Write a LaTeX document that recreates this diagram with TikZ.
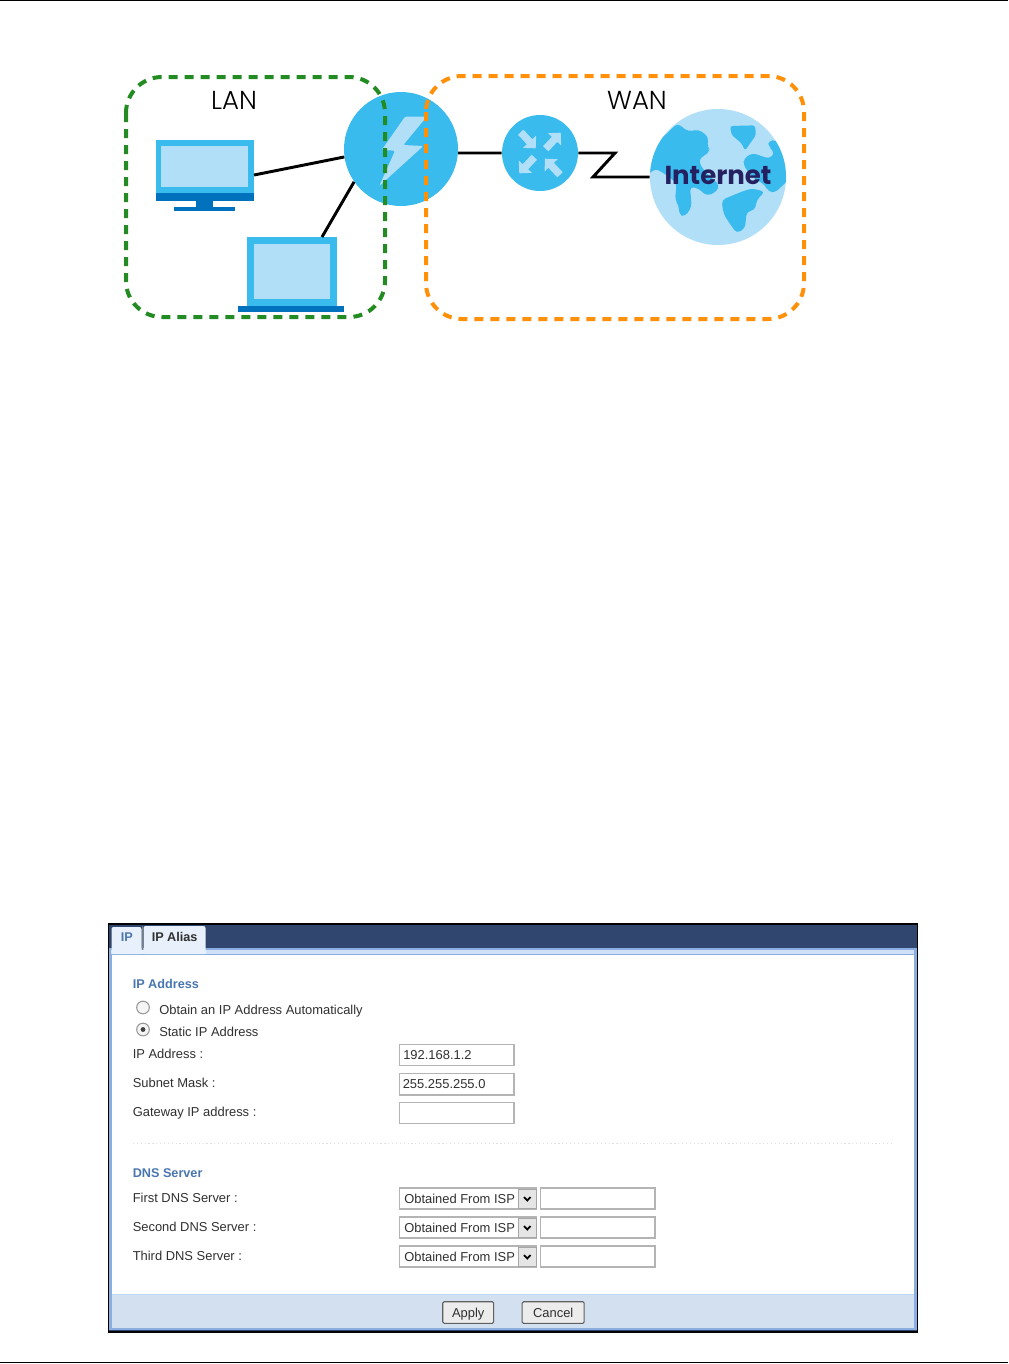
\documentclass[tikz,border=0pt]{standalone}
\usepackage{fontspec}
\setmainfont{Liberation Sans}
\newfontfamily\labelfont{Poppins Light}
\newfontfamily\inetfont{Poppins}
\definecolor{skyb}{HTML}{39BBEE}
\definecolor{paleb}{HTML}{B2DFF8}
\definecolor{deepb}{HTML}{0071BC}
\definecolor{lang}{HTML}{228B22}
\definecolor{wang}{HTML}{FF9008}
\definecolor{navyb}{HTML}{30466E}
\definecolor{inetb}{HTML}{25205F}
\definecolor{footb}{HTML}{D3E0F0}
\definecolor{edgeb}{HTML}{8AAEE0}
\definecolor{bandb}{HTML}{CFE0F8}
\definecolor{tabb}{HTML}{E8F1FB}
\definecolor{headb}{HTML}{4A76B0}
\definecolor{uitext}{HTML}{303030}
\definecolor{fieldb}{HTML}{B4B4B4}
\tikzset{
  x=0.75pt,y=-0.75pt,
  zone/.style={line width=3pt,dash pattern=on 6.75pt off 5.25pt,rounded corners=27pt},
  link/.style={draw=black,line width=2.2pt},
  ball/.style={circle,inner sep=0pt,fill=skyb},
  screenpart/.style={rectangle,inner sep=0pt,fill=skyb},
  netlabel/.style={inner sep=0pt,font=\labelfont\fontsize{19.5}{20}\selectfont,text=black},
  ui/.style={inner sep=0pt,anchor=base west,font=\fontsize{9.7}{11}\selectfont,text=uitext},
  uihead/.style={ui,font=\fontsize{9.5}{11}\selectfont\bfseries,text=headb},
  field/.style={draw=fieldb,line width=0.9pt,fill=white},
  radio/.style={circle,inner sep=0pt,minimum size=9.5pt,draw=gray!80,line width=0.8pt,fill=gray!8},
  uibutton/.style={draw=gray!75!black,line width=0.8pt,fill=gray!15,rounded corners=1pt,inner sep=0pt,anchor=center,text=uitext,text height=9.2pt,text depth=2pt,font=\fontsize{9.7}{11}\selectfont},
  zoomR/.style={x=0.25pt,y=-0.25pt,shift={(330pt,-45pt)}},
  pics/rtarrow/.style={code={\fill[paleb] (0,0)--(-9,-9)--(-9,-3.7)--(-22,-3.7)--(-22,3.7)--(-9,3.7)--(-9,9)--cycle;}}
}
\begin{document}
\begin{tikzpicture}
\useasboundingbox (0,0) rectangle (1008,1364);
\fill[white] (0,0) rectangle (1008,1364);
\coordinate (tl) at (0,0.5); \coordinate (tr) at (1008,0.5);
\coordinate (bl) at (0,1362.8); \coordinate (br) at (1008,1362.8);
\draw[line width=0.8pt] (tl)--(tr);
\draw[line width=0.8pt] (bl)--(br);

% network devices
\node[screenpart,minimum width=73.5pt,minimum height=39.75pt,anchor=north west] (mon) at (156,140) {};
\fill[paleb] (161,146) rectangle (248,187);
\fill[deepb] (156,193) rectangle (254,201);
\fill[deepb] (196,201) rectangle (213,207);
\fill[deepb] (174,207) rectangle (235,211);
\node[screenpart,minimum width=67.5pt,minimum height=51.75pt,anchor=north west] (lap) at (247,237) {};
\fill[paleb] (253.5,244) rectangle (330,299);
\fill[deepb] (238,306) rectangle (344,312);
\node[ball,minimum size=85.5pt] (sw) at (401,149) {};
\fill[paleb,rounded corners=1pt] (405,116.7)--(426.7,116.7)--(403.3,145)--(423.3,146)--(379.3,186)--(395,150.7)--(381.7,150)--cycle;
\node[ball,minimum size=57pt] (rt) at (540,153) {};
\pic[rotate=-47] at (535.7,148.3) {rtarrow};
\pic[rotate=47] at (560.7,132.7) {rtarrow};
\pic[rotate=-133] at (519.3,173.3) {rtarrow};
\pic[rotate=133] at (545,158.7) {rtarrow};
\node[circle,inner sep=0pt,fill=paleb,minimum size=102pt] (globe) at (718,177) {};
\begin{scope}
\clip (718,177) circle[radius=51pt];
\begin{scope}[zoomR]
\fill[skyb,rounded corners=3pt] (625,345)--(632,300)--(660,240)--(712,190)--(745,215)--(775,208)--(805,230)--(802,262)--(812,272)--(775,300)--(790,330)--(838,375)--(830,395)--(800,408)--(775,385)--(750,380)--(755,440)--(735,470)--(718,465)--(716,435)--(705,420)--(710,370)--(680,345)--(645,325)--cycle;
\fill[skyb,rounded corners=2pt] (870,198)--(945,196)--(948,225)--(915,272)--(905,250)--(875,225)--cycle;
\fill[skyb,rounded corners=3pt] (985,242)--(1010,240)--(1045,300)--(1045,360)--(1005,398)--(985,395)--(975,375)--(935,350)--(910,315)--(912,295)--(935,280)--(960,285)--(975,295)--(1000,290)--(1000,270)--(985,260)--cycle;
\fill[skyb,rounded corners=3pt] (845,420)--(905,395)--(935,385)--(975,395)--(950,420)--(945,450)--(920,455)--(915,505)--(890,520)--(862,480)--(850,460)--cycle;
\end{scope}
\end{scope}
\node[inner sep=0pt,font=\inetfont\bfseries\fontsize{19.5}{20}\selectfont,text=inetb] (inet) at (718,175) {Internet};

\coordinate (monport) at (254,175);
\coordinate (lapport) at (322,237);
\coordinate (zigtop) at (615,153);
\coordinate (zigbot) at (593,177);
\draw[link] (monport)--(sw.188);
\draw[link] (lapport)--(sw.215.6);
\draw[link] (sw.356)--(rt.west);
\draw[link,line join=miter] (rt.east)--(zigtop)--(zigbot)--(globe.west);

% zones
\node[netlabel] (lanlabel) at (234,100.5) {LAN};
\node[netlabel] (wanlabel) at (637,100.5) {WAN};
\draw[zone,draw=lang] (126,77) rectangle (385,317);
\draw[zone,draw=wang] (426,76) rectangle (804,319);

% screenshot
\fill[black] (107.5,923) rectangle (917.5,1332.5);
\fill[navyb] (109,924.5) rectangle (916.5,948);
\fill[edgeb] (109,948) rectangle (916.5,1330);
\fill[bandb] (111,950) rectangle (914,954);
\fill[white] (112,955) rectangle (914,1294);
\fill[footb] (112,1294) rectangle (914,1328);
\fill[navyb] (109,1330) rectangle (916.5,1331);
\draw[bandb!80!edgeb,line width=1pt] (112,1294.5)--(914,1294.5);
\fill[tabb,rounded corners=1.5pt] (111.5,927) rectangle (141.5,954);
\fill[tabb,rounded corners=1.5pt] (143.5,926) rectangle (205.5,954);
\fill[tabb] (111.5,950) rectangle (205.5,954);
\draw[gray,line width=0.8pt] (142.3,926)--(142.3,950);
\node[ui,font=\fontsize{9.5}{11}\selectfont\bfseries,text=headb] (tabip) at (120.5,941) {IP};
\node[ui,font=\fontsize{9.5}{11}\selectfont\bfseries] (tabalias) at (151.5,941) {IP Alias};

\node[uihead] (h1) at (132.5,988) {IP Address};
\node[radio] (r1) at (143,1007.5) {};
\node[radio] (r2) at (143,1029.5) {};
\node[circle,inner sep=0pt,minimum size=3.6pt,fill=black!75] (r2dot) at (r2) {};
\node[ui] (t1) at (159,1014) {Obtain an IP Address Automatically};
\node[ui] (t2) at (159,1036) {Static IP Address};
\node[ui] (t3) at (132.5,1058.5) {IP Address :};
\node[ui] (t4) at (132.5,1087.5) {Subnet Mask :};
\node[ui] (t5) at (132.5,1116.5) {Gateway IP address :};
\draw[field] (399.5,1044.5) rectangle (514,1065.5);
\draw[field] (399.5,1073.5) rectangle (514,1095);
\draw[field] (399.5,1102.5) rectangle (514,1123.5);
\node[ui] (v1) at (403,1059.5) {192.168.1.2};
\node[ui] (v2) at (402.5,1088.5) {255.255.255.0};
\draw[gray!25,line width=0.9pt,dotted] (133,1143.5)--(894,1143.5);

\node[uihead] (h2) at (132.5,1177.5) {DNS Server};
\node[ui] (d1) at (132.5,1202) {First DNS Server :};
\node[ui] (d2) at (132.5,1231) {Second DNS Server :};
\node[ui] (d3) at (132.5,1260) {Third DNS Server :};
\foreach \yy/\nm in {1188/a,1217/b,1246/c}{
  \draw[field] (399.5,\yy) rectangle (536.5,\yy+21);
  \draw[field] (540.5,\yy) rectangle (655,\yy+21);
  \fill[gray!20] (518.5,\yy+1) rectangle (536,\yy+20);
  \draw[gray!70,line width=0.7pt] (518.5,\yy+1) rectangle (536,\yy+20);
  \draw[black,line width=1.3pt] (524,\yy+9)--(527.3,\yy+12.5)--(530.5,\yy+9);
  \node[ui] (dd\nm) at (404,\yy+15) {Obtained From ISP};
}
\node[uibutton,minimum width=38.2pt,minimum height=16.2pt] (apply) at (468.2,1312.5) {Apply};
\node[uibutton,minimum width=46.5pt,minimum height=16.2pt] (cancel) at (553.2,1312.5) {Cancel};
\end{tikzpicture}
\end{document}
